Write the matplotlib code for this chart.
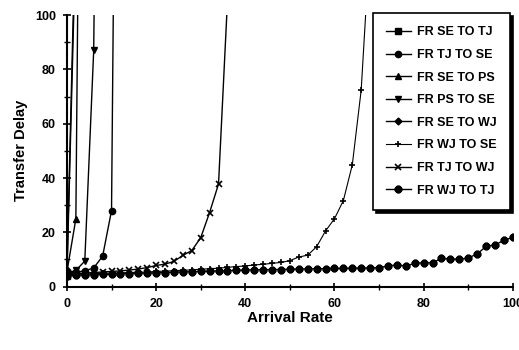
import matplotlib
matplotlib.use('Agg')
import matplotlib.pyplot as plt
from matplotlib.ticker import MultipleLocator

plt.rcParams['font.family'] = ['Liberation Sans', 'DejaVu Sans']
plt.rcParams['font.weight'] = 'bold'

# data
x_se_tj = [0, 2]
y_se_tj = [4.0, 130]
x_tj_se = [0, 2, 4, 6, 8, 10, 12]
y_tj_se = [5.0, 5.3, 5.8, 6.9, 11.2, 28.0, 400]
x_se_ps = [0, 2, 4]
y_se_ps = [5.5, 25.0, 400]
x_ps_se = [0, 2, 4, 6, 8]
y_ps_se = [5.0, 6.0, 9.4, 87.0, 400]
x_se_wj = [0, 2]
y_se_wj = [6.0, 140]
x_wj_se = list(range(0, 70, 2))
y_wj_se = [4.5, 4.6, 4.7, 4.8, 4.9, 5.0, 5.1, 5.2, 5.3, 5.4, 5.6, 5.7, 5.9, 6.0,
           6.2, 6.4, 6.6, 6.8, 7.1, 7.4, 7.6, 8.0, 8.2, 8.6, 8.9, 9.6, 10.9, 11.6,
           14.7, 20.5, 25.0, 31.7, 44.8, 72.4, 128]
x_tj_wj = list(range(0, 38, 2))
y_tj_wj = [4.6, 4.8, 5.0, 5.2, 5.4, 5.6, 5.8, 6.1, 6.5, 7.0, 7.8, 8.3, 9.3, 11.5,
           13.3, 18.0, 27.3, 37.8, 105]
x_wj_tj = list(range(0, 102, 2))
y_wj_tj = [4.0, 4.2, 4.3, 4.4, 4.5, 4.6, 4.7, 4.8, 4.9, 5.0, 5.1, 5.2, 5.3, 5.4,
           5.5, 5.6, 5.7, 5.8, 5.9, 6.0, 6.1, 6.2, 6.2, 6.3, 6.3, 6.4, 6.5,
           6.5, 6.6, 6.6, 6.7, 6.7, 6.8, 6.8, 6.9, 7.0, 7.6, 8.0, 7.6, 8.6, 8.8,
           8.8, 10.4, 10.2, 10.0, 10.6, 12.0, 14.8, 15.4, 17.0, 18.2]

labels = ['FR SE TO TJ', 'FR TJ TO SE', 'FR SE TO PS', 'FR PS TO SE',
          'FR SE TO WJ', 'FR WJ TO SE', 'FR TJ TO WJ', 'FR WJ TO TJ']

fig = plt.figure(figsize=(5.19, 3.5), dpi=100)
ax = fig.add_axes([0.129, 0.181, 0.859, 0.776])

kw = dict(color='black', lw=1.0, ms=4.5)
ax.plot(x_se_tj, y_se_tj, marker='s', label=labels[0], **kw)
ax.plot(x_tj_se, y_tj_se, marker='o', label=labels[1], **kw)
ax.plot(x_se_ps, y_se_ps, marker='^', label=labels[2], **kw)
ax.plot(x_ps_se, y_ps_se, marker='v', label=labels[3], **kw)
ax.plot(x_se_wj, y_se_wj, marker='D', label=labels[4], color='black', lw=1.0, ms=3.5)
ax.plot(x_wj_se, y_wj_se, marker='+', mew=1.2, label=labels[5], color='black', lw=0.8, ms=5)
ax.plot(x_tj_wj, y_tj_wj, marker='x', mew=1.2, label=labels[6], color='black', lw=1.0, ms=5)
ax.plot(x_wj_tj, y_wj_tj, marker=(8, 2, 0), mew=2.0, label=labels[7], color='black', lw=1.0, ms=5.5)

ax.set_xlim(0, 100)
ax.set_ylim(0, 100)
ax.spines['top'].set_visible(False)
ax.spines['right'].set_visible(False)
ax.spines['left'].set_linewidth(1.5)
ax.spines['bottom'].set_linewidth(1.5)
ax.xaxis.set_major_locator(MultipleLocator(20))
ax.xaxis.set_minor_locator(MultipleLocator(10))
ax.yaxis.set_major_locator(MultipleLocator(20))
ax.yaxis.set_minor_locator(MultipleLocator(10))
ax.tick_params(which='major', direction='inout', length=6, width=1.2, labelsize=9)
ax.tick_params(which='minor', direction='inout', length=4, width=1.0)
ax.tick_params(axis='x', pad=5)
ax.tick_params(axis='y', pad=5)

ax.set_xlabel('Arrival Rate', fontsize=11, fontweight='bold', labelpad=1)
ax.set_ylabel('Transfer Delay', fontsize=10.5, fontweight='bold', labelpad=5)

leg = ax.legend(loc='upper left', bbox_to_anchor=(0.686, 1.007), borderaxespad=0,
                fontsize=9, handlelength=2.0, handletextpad=0.5,
                labelspacing=0.85, borderpad=1.05,
                fancybox=False, edgecolor='black', framealpha=1,
                shadow={'color': 'black', 'alpha': 1})
leg.get_frame().set_linewidth(1.2)

fig.savefig('out.png', dpi=100)
